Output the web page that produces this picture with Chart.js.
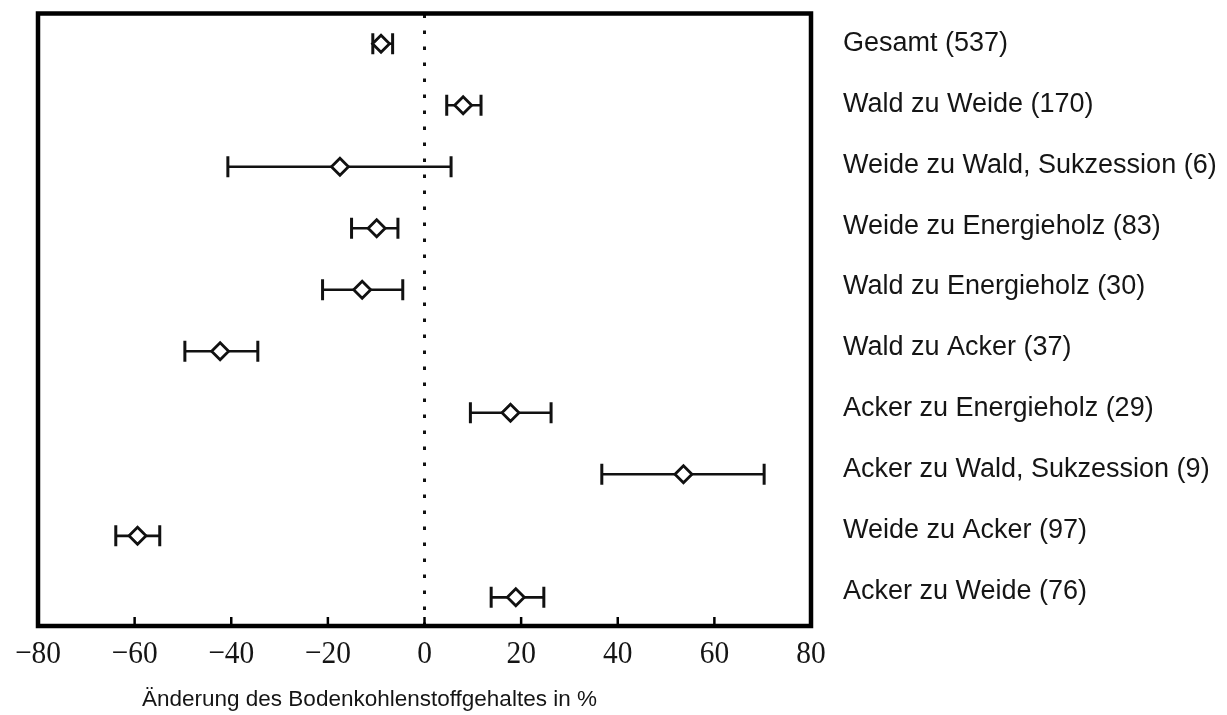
<!DOCTYPE html>
<html>
<head>
<meta charset="utf-8">
<script src="https://cdn.jsdelivr.net/npm/chart.js@4/dist/chart.umd.min.js"></script>
<style>
  html, body { margin: 0; padding: 0; background: #ffffff; }
  canvas { display: block; }
</style>
</head>
<body>
<canvas id="c" width="1227" height="715"></canvas>
<script>
const categories = [
  "Gesamt (537)",
  "Wald zu Weide (170)",
  "Weide zu Wald, Sukzession (6)",
  "Weide zu Energieholz (83)",
  "Wald zu Energieholz (30)",
  "Wald zu Acker (37)",
  "Acker zu Energieholz (29)",
  "Acker zu Wald, Sukzession (9)",
  "Weide zu Acker (97)",
  "Acker zu Weide (76)"
];
const means = [-9.0, 8.0, -17.5, -9.9, -12.9, -42.3, 17.8, 53.6, -59.4, 18.9];
const lower = [-10.7, 4.6, -40.7, -15.1, -21.1, -49.6, 9.5, 36.7, -63.9, 13.8];
const upper = [-6.6, 11.7, 5.5, -5.5, -4.5, -34.5, 26.2, 70.3, -54.8, 24.7];
const xTickValues = [-80, -60, -40, -20, 0, 20, 40, 60, 80];
const xTitle = "Änderung des Bodenkohlenstoffgehaltes in %";

const INK = '#111111';

const errorDatasets = categories.map((c, i) => ({
  type: 'line',
  label: c,
  data: [{x: lower[i], y: i}, {x: upper[i], y: i}],
  borderColor: INK,
  borderWidth: 2.6,
  pointStyle: 'line',
  rotation: 90,
  pointRadius: 10.5,
  pointBorderWidth: 3,
  pointBorderColor: INK,
  pointBackgroundColor: INK,
  order: 2,
  yAxisID: 'y'
}));

const meanDataset = {
  type: 'scatter',
  label: 'Mittelwert',
  data: means.map((m, i) => ({x: m, y: i})),
  pointStyle: 'rectRot',
  pointRadius: 8.5,
  borderWidth: 2.8,
  borderColor: INK,
  backgroundColor: '#ffffff',
  order: 1,
  yAxisID: 'y'
};

const framePlugin = {
  id: 'frame',
  beforeDatasetsDraw(chart) {
    const {ctx, chartArea: a, scales} = chart;
    const x0 = scales.x.getPixelForValue(0);
    ctx.save();
    ctx.strokeStyle = INK;
    ctx.lineWidth = 3;
    ctx.setLineDash([3.5, 12.5]);
    ctx.beginPath();
    ctx.moveTo(x0, a.top + 1);
    ctx.lineTo(x0, a.bottom);
    ctx.stroke();
    ctx.restore();
  },
  afterDraw(chart) {
    const {ctx, chartArea: a, scales} = chart;
    ctx.save();
    // frame
    ctx.strokeStyle = '#000';
    ctx.lineWidth = 4.5;
    ctx.strokeRect(a.left, a.top, a.right - a.left, a.bottom - a.top);
    // tick marks (inside) and labels
    ctx.lineWidth = 2.5;
    ctx.fillStyle = '#151515';
    ctx.textAlign = 'center';
    ctx.textBaseline = 'alphabetic';
    ctx.font = '31px "Liberation Serif", "Times New Roman", serif';
    xTickValues.forEach(v => {
      const px = scales.x.getPixelForValue(v);
      if (v > -80 && v < 80) {
        ctx.beginPath();
        ctx.moveTo(px, a.bottom);
        ctx.lineTo(px, a.bottom - 9);
        ctx.stroke();
      }
      const txt = v < 0 ? '\u2212' + Math.abs(v) : String(v);
      ctx.save();
      ctx.translate(px, a.bottom + 37);
      ctx.scale(0.95, 1.05);
      ctx.fillText(txt, 0, 0);
      ctx.restore();
    });
    // axis title
    ctx.font = '22.5px "Liberation Sans", Arial, sans-serif';
    ctx.fillStyle = '#151515';
    ctx.textAlign = 'left';
    ctx.fillText(xTitle, a.left + 104, 706);
    // category labels at right
    ctx.font = '27px "Liberation Sans", Arial, sans-serif';
    ctx.textBaseline = 'middle';
    categories.forEach((c, i) => {
      const py = scales.y2.getPixelForValue(i);
      ctx.fillText(c, a.right + 32, py + 1);
    });
    ctx.restore();
  }
};

new Chart(document.getElementById('c'), {
  type: 'scatter',
  data: { datasets: [meanDataset, ...errorDatasets] },
  options: {
    responsive: false,
    devicePixelRatio: 1,
    animation: false,
    events: [],
    layout: { padding: { left: 38, right: 416, top: 13, bottom: 89 } },
    plugins: { legend: { display: false }, tooltip: { enabled: false } },
    scales: {
      x: { type: 'linear', min: -80, max: 80, display: false, ticks: { stepSize: 20 } },
      y: { type: 'linear', min: -0.492, max: 9.466, reverse: true, display: false },
      y2: { type: 'linear', min: -0.478, max: 9.591, reverse: true, display: false }
    }
  },
  plugins: [framePlugin]
});
</script>
</body>
</html>
